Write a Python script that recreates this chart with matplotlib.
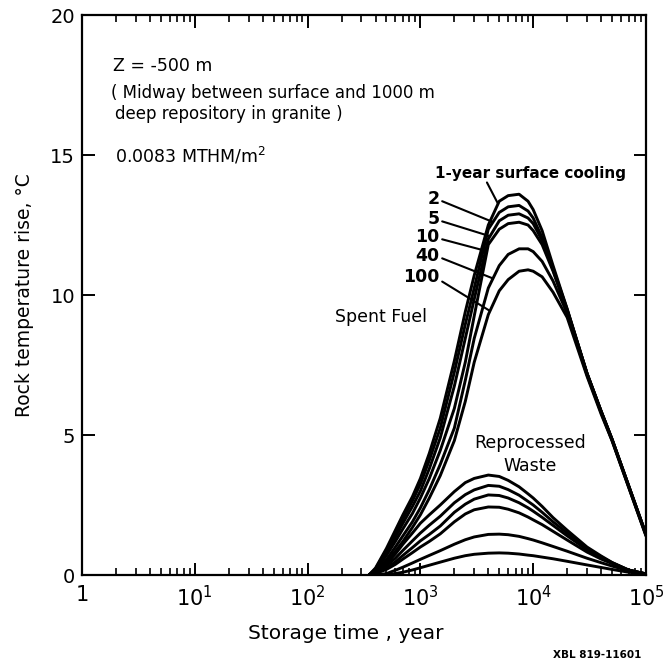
import numpy as np
import matplotlib
matplotlib.use("Agg")
import matplotlib.pyplot as plt
from matplotlib.ticker import LogLocator, NullFormatter, FixedLocator, FixedFormatter

# Storage time grid (years)
years = [350, 400, 500, 600, 700, 850, 1000, 1200, 1500, 2000, 2500, 3000, 4000,
         5000, 6000, 7500, 9000, 10000, 12000, 15000, 20000, 30000, 40000,
         50000, 70000, 100000]

# Spent fuel, by years of surface cooling before emplacement
spent_1 = [0.0, 0.25, 0.95, 1.6, 2.15, 2.8, 3.45, 4.35, 5.6, 7.65, 9.4, 10.7, 12.5,
           13.35, 13.55, 13.6, 13.35, 13.05, 12.3, 11.05, 9.5, 7.2, 5.85, 4.85, 3.2, 1.45]
spent_2 = [0.0, 0.22, 0.88, 1.5, 2.0, 2.65, 3.25, 4.1, 5.25, 7.25, 8.95, 10.25, 12.35,
           12.95, 13.15, 13.2, 13.0, 12.75, 12.05, 10.95, 9.5, 7.2, 5.85, 4.85, 3.2, 1.45]
spent_5 = [0.0, 0.18, 0.8, 1.35, 1.85, 2.45, 3.0, 3.8, 4.9, 6.75, 8.45, 9.85, 12.0,
           12.65, 12.85, 12.9, 12.75, 12.55, 11.95, 10.9, 9.45, 7.2, 5.85, 4.85, 3.2, 1.45]
spent_10 = [0.0, 0.15, 0.7, 1.2, 1.65, 2.2, 2.75, 3.45, 4.45, 5.95, 7.6, 9.25, 11.8,
            12.35, 12.55, 12.6, 12.5, 12.3, 11.8, 10.85, 9.45, 7.2, 5.85, 4.85, 3.2, 1.45]
spent_40 = [0.0, 0.1, 0.55, 1.0, 1.4, 1.9, 2.4, 3.05, 3.95, 5.25, 6.95, 8.45, 10.25,
            11.05, 11.45, 11.65, 11.65, 11.55, 11.2, 10.5, 9.35, 7.15, 5.8, 4.8, 3.15, 1.4]
spent_100 = [0.0, 0.08, 0.45, 0.85, 1.2, 1.7, 2.15, 2.75, 3.55, 4.8, 6.2, 7.6, 9.3,
             10.15, 10.55, 10.85, 10.9, 10.85, 10.65, 10.1, 9.2, 7.1, 5.75, 4.8, 3.15, 1.4]

# Reprocessed waste, same cooling times
repro_1 = [0.0, 0.1, 0.4, 0.75, 1.1, 1.5, 1.85, 2.15, 2.5, 2.98, 3.3, 3.45, 3.57,
           3.52, 3.38, 3.15, 2.9, 2.75, 2.45, 2.05, 1.6, 1.0, 0.68, 0.45, 0.18, 0.04]
repro_2 = [0.0, 0.08, 0.33, 0.6, 0.88, 1.22, 1.5, 1.78, 2.1, 2.58, 2.87, 3.04, 3.2,
           3.17, 3.05, 2.85, 2.63, 2.5, 2.24, 1.9, 1.5, 0.95, 0.65, 0.44, 0.18, 0.04]
repro_5 = [0.0, 0.06, 0.25, 0.47, 0.7, 0.98, 1.22, 1.45, 1.75, 2.24, 2.53, 2.71, 2.86,
           2.84, 2.75, 2.58, 2.4, 2.28, 2.06, 1.77, 1.4, 0.9, 0.62, 0.43, 0.17, 0.04]
repro_10 = [0.0, 0.05, 0.2, 0.38, 0.57, 0.8, 1.0, 1.2, 1.47, 1.9, 2.18, 2.33, 2.43,
            2.42, 2.35, 2.22, 2.07, 1.97, 1.8, 1.56, 1.25, 0.82, 0.57, 0.41, 0.17, 0.04]
repro_40 = [0.0, 0.0, 0.05, 0.17, 0.28, 0.43, 0.56, 0.7, 0.87, 1.1, 1.26, 1.36, 1.45,
            1.46, 1.44, 1.38, 1.3, 1.25, 1.15, 1.02, 0.85, 0.6, 0.44, 0.32, 0.15, 0.04]
repro_100 = [0.0, 0.0, 0.0, 0.05, 0.1, 0.18, 0.26, 0.35, 0.46, 0.6, 0.69, 0.74, 0.78,
             0.79, 0.78, 0.75, 0.71, 0.69, 0.64, 0.58, 0.49, 0.36, 0.27, 0.2, 0.1, 0.03]

spent_curves = [spent_1, spent_2, spent_5, spent_10, spent_40, spent_100]
repro_curves = [repro_1, repro_2, repro_5, repro_10, repro_40, repro_100]
cooling_labels = ["2", "5", "10", "40", "100"]

x_ticks = [1, 10, 100, 1000, 10000, 100000]
x_ticklabels = ["1", r"$10^1$", r"$10^2$", r"$10^3$", r"$10^4$", r"$10^5$"]
y_ticks = [0, 5, 10, 15, 20]

fig = plt.figure(figsize=(6.69, 6.68), dpi=100)
ax = fig.add_axes([0.1226, 0.1392, 0.843, 0.8383])

for ys in spent_curves + repro_curves:
    ax.plot(years, ys, color="black", lw=2.1, solid_capstyle="round",
            solid_joinstyle="round")

ax.set_xscale("log")
ax.set_xlim(1, 1e5)
ax.set_ylim(0, 20)

ax.xaxis.set_major_locator(FixedLocator(x_ticks))
ax.xaxis.set_major_formatter(FixedFormatter(x_ticklabels))
ax.xaxis.set_minor_locator(LogLocator(base=10, subs=np.arange(2, 10)))
ax.xaxis.set_minor_formatter(NullFormatter())
ax.set_yticks(y_ticks)

ax.tick_params(which="both", direction="in", top=True, right=True, color="black")
ax.tick_params(which="major", length=9, width=1.4)
ax.tick_params(which="minor", length=5, width=1.2)
ax.tick_params(axis="x", which="major", labelsize=15, pad=7)
ax.tick_params(axis="y", which="major", labelsize=14, pad=5)
for s in ax.spines.values():
    s.set_linewidth(1.6)

ax.set_xlabel("Storage time , year", fontsize=14.5)
ax.xaxis.set_label_coords(0.468, -0.088)
ax.set_ylabel("Rock temperature rise, °C", fontsize=13.5)
ax.yaxis.set_label_coords(-0.085, 0.5)

# Header text
tx = 0.052
ax.text(tx + 0.003, 0.909, "Z = -500 m", transform=ax.transAxes, fontsize=12.5,
        va="center", ha="left")
ax.text(tx, 0.860, "( Midway between surface and 1000 m", transform=ax.transAxes,
        fontsize=12, va="center", ha="left")
ax.text(tx + 0.006, 0.824, "deep repository in granite )", transform=ax.transAxes,
        fontsize=12, va="center", ha="left")
ax.text(tx + 0.006, 0.749, r"0.0083 MTHM/m$^2$", transform=ax.transAxes,
        fontsize=12.5, va="center", ha="left")

# Cooling-time labels with leader lines to the spent fuel curves
logx = np.log10(years)


def on_curve(curve, x):
    return x, float(np.interp(np.log10(x), logx, curve))


ax.annotate("", xy=on_curve(spent_1, 4880), xytext=(3890, 14.02),
            arrowprops=dict(arrowstyle="-", lw=1.5, shrinkA=0, shrinkB=0))
ax.text(1350, 14.35, "1-year surface cooling", fontsize=11, fontweight="bold",
        ha="left", va="center")

label_y = [13.42, 12.7, 12.06, 11.38, 10.66]
line_y0 = [13.35, 12.63, 11.99, 11.31, 10.48]
end_x = [4400, 4140, 3895, 4400, 4140]
for lab, ly, y0, ex, curve in zip(cooling_labels, label_y, line_y0, end_x,
                                  spent_curves[1:]):
    ax.text(1470, ly, lab, fontsize=12.5, fontweight="bold", ha="right", va="center")
    ax.annotate("", xy=on_curve(curve, ex), xytext=(1560, y0),
                arrowprops=dict(arrowstyle="-", lw=1.5, shrinkA=0, shrinkB=0))

ax.text(447, 9.2, "Spent Fuel", fontsize=12.5, ha="center", va="center")
ax.text(9350, 4.72, "Reprocessed", fontsize=12.5, ha="center", va="center")
ax.text(9350, 3.9, "Waste", fontsize=12.5, ha="center", va="center")

fig.text(0.893, 0.02, "XBL 819-11601", fontsize=7.5, fontweight="bold",
         ha="center", va="center")

fig.savefig("out.png", dpi=100)
